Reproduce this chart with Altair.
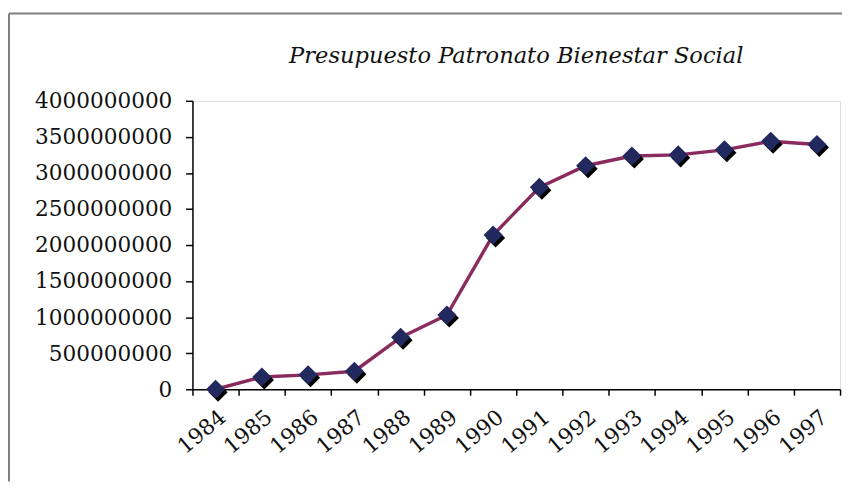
import altair as alt
import pandas as pd

years = ["1984", "1985", "1986", "1987", "1988", "1989", "1990",
         "1991", "1992", "1993", "1994", "1995", "1996", "1997"]
budget = [0, 170e6, 200e6, 250e6, 720e6, 1030e6, 2140e6,
          2800e6, 3100e6, 3235e6, 3250e6, 3320e6, 3440e6, 3395e6]
y_ticks = [0, 5e8, 1e9, 1.5e9, 2e9, 2.5e9, 3e9, 3.5e9, 4e9]
title_text = "Presupuesto Patronato Bienestar Social"

df = pd.DataFrame({"year": years, "budget": budget})

W, H = 660, 294
FONT = "DejaVu Serif"
TXT = "#111111"
FS = 22

x_enc = alt.X(
    "year:N", sort=years,
    scale=alt.Scale(type="band", paddingInner=0, paddingOuter=0),
    axis=alt.Axis(title=None, labelAngle=-40, labelAlign="right", labelBaseline="middle",
                  tickBand="extent", tickSize=6, labelPadding=19, labelOffset=7,
                  labelFont=FONT, labelFontSize=FS, labelColor=TXT,
                  domainColor="black", tickColor="black", domainWidth=1.5, tickWidth=1.5),
)
y_enc = alt.Y(
    "budget:Q",
    scale=alt.Scale(domain=[0, 4e9], nice=False),
    axis=alt.Axis(title=None, values=y_ticks, format="d", grid=False,
                  tickSize=7, labelPadding=14, labelFont=FONT, labelFontSize=FS,
                  labelColor=TXT, domainColor="black", tickColor="black",
                  domainWidth=1.5, tickWidth=1.5),
)

base = alt.Chart(df).encode(x=x_enc, y=y_enc)

line = base.mark_line(color="#8a2b5e", strokeWidth=3.5)
shadow = base.mark_point(shape="diamond", filled=True, size=380, color="black",
                         opacity=1, xOffset=2.5, yOffset=3)
pts = base.mark_point(shape="diamond", filled=True, size=380, color="#22295e", opacity=1)

frame_df = pd.DataFrame({"k": [0]})
frame_left = alt.Chart(frame_df).mark_rule(color="#808080", strokeWidth=2).encode(
    x=alt.value(-187), y=alt.value(-89), y2=alt.value(H + 94))
frame_top = alt.Chart(frame_df).mark_rule(color="#808080", strokeWidth=2).encode(
    x=alt.value(-187), x2=alt.value(W + 2), y=alt.value(-89))
title = alt.Chart(frame_df).mark_text(
    font=FONT, fontStyle="italic", fontSize=23, color=TXT,
    align="center", baseline="alphabetic").encode(
    x=alt.value(W / 2), y=alt.value(-39), text=alt.value(title_text))

chart = alt.layer(frame_left, frame_top, title, line, shadow, pts).properties(
    width=W, height=H, padding=0,
).configure_view(stroke="#9a9a9a", strokeWidth=1.5).configure(background="white")

chart.save("out.html", embed_options={"renderer": "svg", "actions": False})
